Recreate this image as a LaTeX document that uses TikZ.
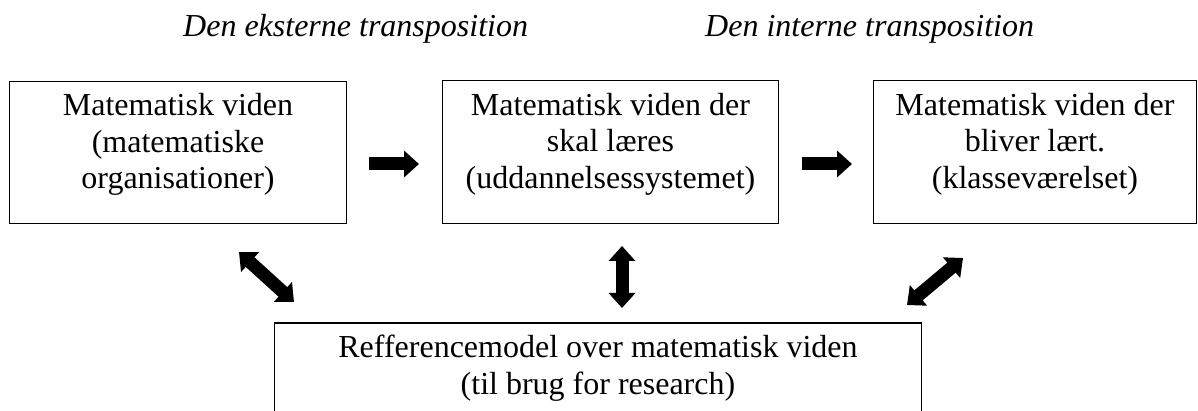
\documentclass[tikz,border=0pt]{standalone}
\usepackage{fontspec}
\setmainfont{Liberation Serif}
\usetikzlibrary{arrows.meta}
\tikzset{
  box/.style={draw, line width=1.6pt, inner sep=0pt},
  boxtext/.style={align=center, inner sep=0pt, font=\fontsize{32}{36.5}\selectfont},
  heading/.style={inner sep=0pt, font=\fontsize{32}{36.5}\selectfont\itshape},
  fat/.style={line width=13pt},
  bigarrow/.style={fat, -{Triangle[length=15pt,width=26pt]}},
  dblarrow/.style={fat, {Triangle[length=15pt,width=26pt]}-{Triangle[length=15pt,width=26pt]}}
}
\begin{document}
\begin{tikzpicture}[x=1pt, y=-1pt]
\useasboundingbox (0,0) rectangle (1198,411);

% headings
\node[heading, anchor=base west] (hext) at (183,37) {Den eksterne transposition};
\node[heading, anchor=base west] (hint) at (705,37) {Den interne transposition};

% the three upper boxes
\node[box, minimum width=337pt, minimum height=142pt] (b1) at (178,152.5) {};
\node[box, minimum width=336pt, minimum height=143pt] (b2) at (610.5,152) {};
\node[box, minimum width=323pt, minimum height=143pt] (b3) at (1035,152) {};
\node[boxtext] (t1) at ([yshift=8pt]b1.center) {Matematisk viden\\(matematiske\\organisationer)};
\node[boxtext] (t2) at ([yshift=8pt]b2.center) {Matematisk viden der\\skal læres\\(uddannelsessystemet)};
\node[boxtext] (t3) at ([yshift=8pt]b3.center) {Matematisk viden der\\bliver lært.\\(klasseværelset)};

% lower box, running past the bottom edge
\node[box, anchor=north, minimum width=647pt, minimum height=130pt] (ref) at (598,322) {};
\node[boxtext] (reftext) at (598,368) {Refferencemodel over matematisk viden\\(til brug for research)};

% arrow end points
\coordinate (a1s) at (369,164);
\coordinate (a1e) at (419,164);
\coordinate (a2s) at (802,164);
\coordinate (a2e) at (852,164);
\coordinate (dLa) at (239,252);
\coordinate (dLb) at (294,302);
\coordinate (vA) at (622,246);
\coordinate (vB) at (622,308);
\coordinate (dRa) at (963,258);
\coordinate (dRb) at (907,305);

\draw[bigarrow] (a1s) -- (a1e);
\draw[bigarrow] (a2s) -- (a2e);
\draw[dblarrow] (dLa) -- (dLb);
\draw[dblarrow] (vA) -- (vB);
\draw[dblarrow] (dRa) -- (dRb);
\end{tikzpicture}
\end{document}
